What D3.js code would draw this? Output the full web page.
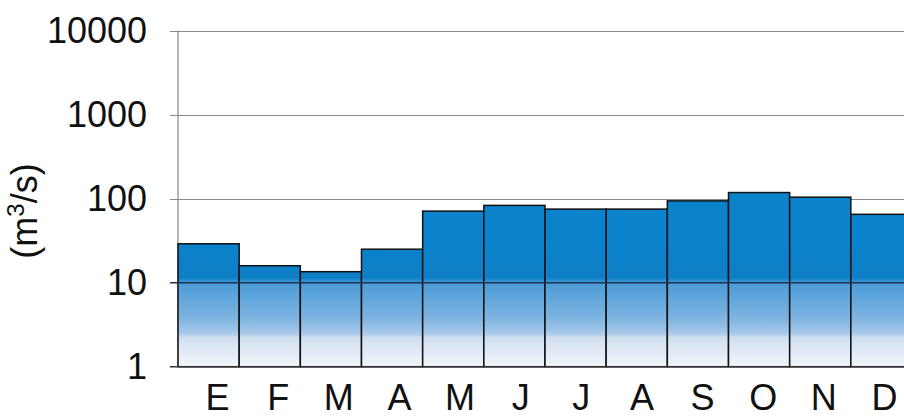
<!DOCTYPE html>
<html>
<head>
<meta charset="utf-8">
<script src="https://cdn.jsdelivr.net/npm/d3@7"></script>
<style>
  html, body { margin: 0; padding: 0; background: #fff; }
  svg { display: block; }
  text { font-family: "Liberation Sans", Arial, sans-serif; fill: #111; }
</style>
</head>
<body>
<svg id="chart" width="904" height="418"></svg>
<script>
const months = ["E", "F", "M", "A", "M", "J", "J", "A", "S", "O", "N", "D"];
const flows = [29, 15.9, 13.5, 25, 71, 83, 75, 75, 94, 118, 104, 65];
const yTicks = [1, 10, 100, 1000, 10000];

(function () {
const svg = d3.select("#chart");
const mLeft = 178, mRight = 912, mTop = 30.5, mBottom = 366.7;

const x = d3.scaleBand().domain(d3.range(months.length)).range([mLeft, mRight]).padding(0);
const xLab = d3.scalePoint().domain(d3.range(months.length)).range([217, 884]);
const y = d3.scaleLog().domain([1, 10000]).range([mBottom, mTop]);

// gradient fixed in absolute coordinates
const defs = svg.append("defs");
const grad = defs.append("linearGradient")
  .attr("id", "barGrad")
  .attr("gradientUnits", "userSpaceOnUse")
  .attr("x1", 0).attr("x2", 0)
  .attr("y1", y(30)).attr("y2", y(1));
[[0, "#0a82cc"], [0.285, "#0e7fc6"], [0.325, "#4a9cd8"], [0.62, "#80b5e1"], [0.73, "#a8c9e8"],
 [0.77, "#d0e0f0"], [1, "#f3f6fb"]].forEach(([o, c]) =>
  grad.append("stop").attr("offset", o).attr("stop-color", c));

// gridlines (behind bars)
svg.append("g").selectAll("line").data(yTicks.filter(t => t !== 1 && t !== 10)).join("line")
  .attr("x1", 170).attr("x2", 904)
  .attr("y1", d => Math.round(y(d)) + 0.5).attr("y2", d => Math.round(y(d)) + 0.5)
  .attr("stroke", "#8a8a8a").attr("stroke-width", 1.2);

// left axis line
svg.append("line")
  .attr("x1", mLeft).attr("x2", mLeft).attr("y1", mTop).attr("y2", mBottom)
  .attr("stroke", "#888").attr("stroke-width", 1.2);

// bars
svg.append("g").selectAll("rect").data(flows).join("rect")
  .attr("x", (d, i) => x(i))
  .attr("y", d => y(d))
  .attr("width", x.bandwidth())
  .attr("height", d => mBottom - y(d))
  .attr("fill", "url(#barGrad)")
  .attr("stroke", "#111")
  .attr("stroke-width", 1.5);

// gridline at 10 on top
svg.append("line")
  .attr("x1", 170).attr("x2", 904)
  .attr("y1", y(10)).attr("y2", y(10))
  .attr("stroke", "#1d3550").attr("stroke-width", 1.5);

// baseline
svg.append("line")
  .attr("x1", 170).attr("x2", 904)
  .attr("y1", mBottom).attr("y2", mBottom)
  .attr("stroke", "#333").attr("stroke-width", 1.5);

// y axis labels
const yAxis = d3.axisLeft(y).tickValues(yTicks).tickFormat(d3.format("d")).tickSize(0).tickPadding(0);
const gy = svg.append("g").attr("transform", "translate(147,0)").call(yAxis);
gy.select(".domain").remove();
gy.selectAll("text")
  .style("font-family", '"Liberation Sans", Arial, sans-serif')
  .style("font-size", "36px")
  .attr("fill", "#111")
  .attr("dy", "0.33em");

// x axis labels
const xAxis = d3.axisBottom(xLab).tickFormat(i => months[i]).tickSize(0).tickPadding(0);
const gx = svg.append("g").attr("transform", `translate(0,${mBottom})`).call(xAxis);
gx.select(".domain").remove();
gx.selectAll("text")
  .style("font-family", '"Liberation Sans", Arial, sans-serif')
  .style("font-size", "36px")
  .attr("fill", "#111")
  .attr("dy", "0")
  .attr("y", 43);

// y title
const t = svg.append("text")
  .attr("transform", "translate(37,211) rotate(-90)")
  .attr("text-anchor", "middle")
  .style("font-size", "36px");
t.append("tspan").text("(m");
t.append("tspan").attr("baseline-shift", "super").style("font-size", "24px").text("3");
t.append("tspan").text("/s)");
})();
</script>
</body>
</html>
